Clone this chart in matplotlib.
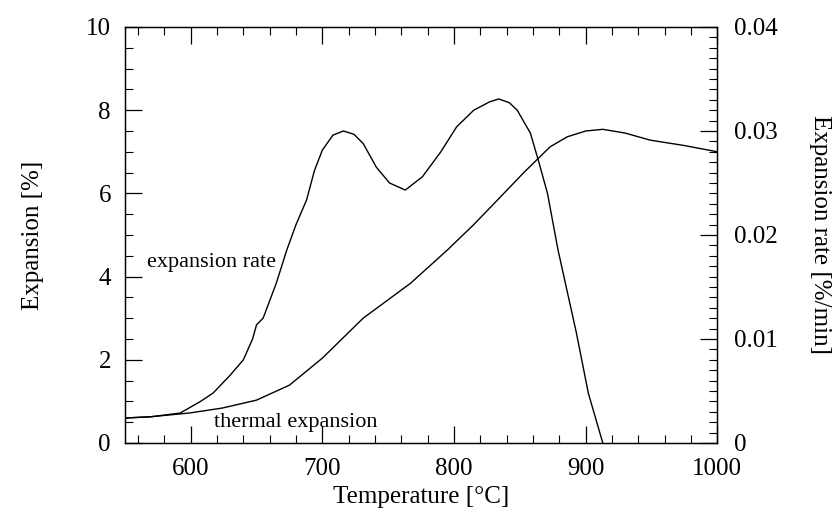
import matplotlib.pyplot as plt
from matplotlib.ticker import MultipleLocator

# expansion rate curve [%/min]
rate_temp = [550, 570, 592, 607, 617, 630, 640, 647, 650, 655, 665, 673, 680, 688, 694,
             700, 708, 716, 724, 731, 741, 751, 763, 776, 790, 802, 815, 827, 834,
             842, 848, 858, 864, 871, 879, 893, 902, 913]
rate_vals = [0.0024, 0.00252, 0.00288, 0.00396, 0.0048, 0.00652, 0.008, 0.01, 0.01136,
             0.012, 0.01536, 0.01856, 0.021, 0.02336, 0.0262, 0.02816, 0.0296, 0.03, 0.02968,
             0.0288, 0.02652, 0.025, 0.02432, 0.0256, 0.028, 0.0304, 0.032, 0.0328,
             0.03308, 0.03272, 0.032, 0.0298, 0.0272, 0.024, 0.01856, 0.01056, 0.0048, 0.0]

# thermal expansion curve [%]
exp_temp = [550, 569, 599, 624, 650, 675, 700, 731, 767, 795, 815, 833, 853, 873,
            886, 900, 913, 930, 949, 975, 1000]
exp_vals = [0.6, 0.63, 0.72, 0.84, 1.03, 1.39, 2.04, 3.0, 3.84, 4.64, 5.25, 5.84, 6.5,
            7.12, 7.36, 7.5, 7.54, 7.45, 7.28, 7.15, 7.0]

left_ticks = [0, 2, 4, 6, 8, 10]
right_ticks = [0, 0.01, 0.02, 0.03, 0.04]
right_labels = ['0', '0.01', '0.02', '0.03', '0.04']
x_ticks = [600, 700, 800, 900, 1000]

plt.rcParams['font.family'] = ['Liberation Serif', 'DejaVu Serif']

fig = plt.figure(figsize=(8.38, 5.16), dpi=100)
ax = fig.add_axes([0.149, 0.1415, 0.707, 0.8062])
ax2 = ax.twinx()

ax.plot(exp_temp, exp_vals, color='black', lw=1.0)
ax2.plot(rate_temp, rate_vals, color='black', lw=1.0)

ax.set_xlim(550, 1000)
ax.set_ylim(0, 10)
ax2.set_ylim(0, 0.04)

ax.set_xticks(x_ticks)
ax.xaxis.set_minor_locator(MultipleLocator(20))
ax.set_yticks(left_ticks)
ax.yaxis.set_minor_locator(MultipleLocator(0.5))
ax2.set_yticks(right_ticks)
ax2.set_yticklabels(right_labels)
ax2.yaxis.set_minor_locator(MultipleLocator(0.001))

ax.tick_params(axis='x', which='both', direction='in', top=True, labelsize=18, pad=11)
ax.tick_params(axis='y', which='both', direction='in', right=False, labelsize=18, pad=10)
ax.tick_params(which='major', length=12, width=0.9)
ax.tick_params(which='minor', length=6, width=0.8)
ax2.tick_params(axis='y', which='both', direction='in', labelsize=18, pad=12)
ax2.tick_params(which='major', length=12, width=0.9)
ax2.tick_params(which='minor', length=6, width=0.8)

for a in (ax, ax2):
    for s in a.spines.values():
        s.set_linewidth(0.9)

ax.set_xlabel('Temperature [°C]', fontsize=18, labelpad=4)
ax.set_ylabel('Expansion [%]', fontsize=18, labelpad=30)
ax2.set_ylabel('Expansion rate [%/min]', fontsize=18, rotation=270, labelpad=38)

ax.text(616, 4.35, 'expansion rate', fontsize=16, ha='center', va='center')
ax.text(680, 0.5, 'thermal expansion', fontsize=16, ha='center', va='center')

fig.savefig('out.png', dpi=100)
